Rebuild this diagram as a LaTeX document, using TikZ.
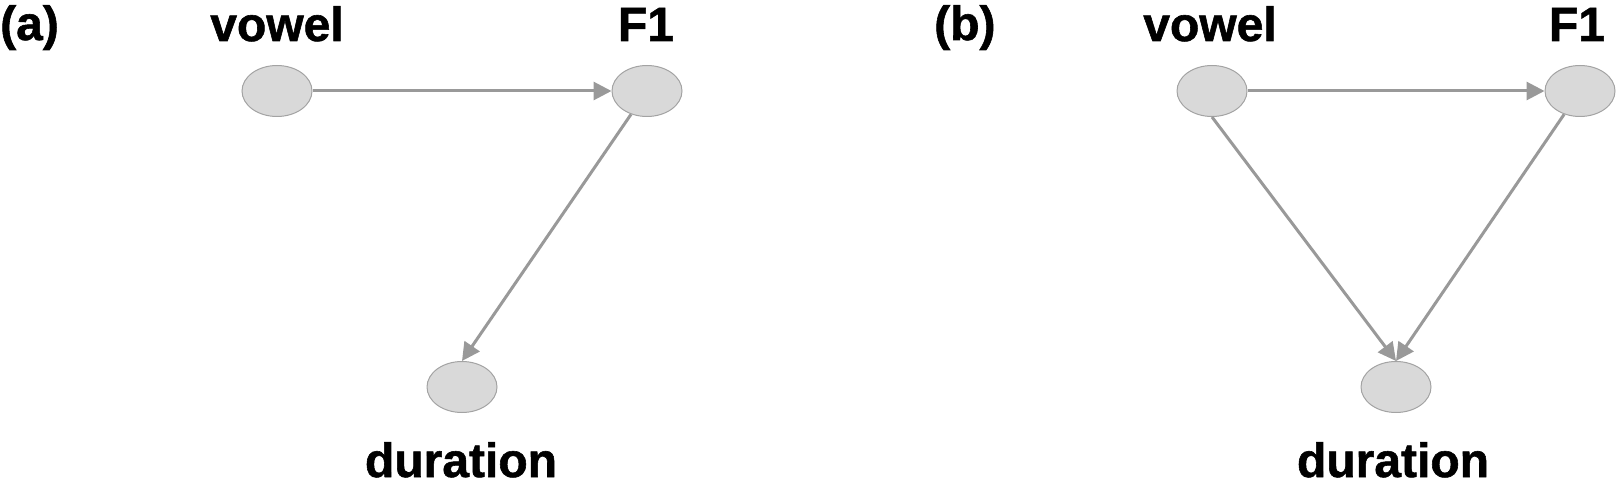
\documentclass[tikz,border=0pt]{standalone}
\usepackage{fontspec}
\setmainfont{Liberation Sans}[BoldFeatures={FakeBold=1.2}]
\usetikzlibrary{arrows.meta,shapes.geometric}
\definecolor{nodefill}{HTML}{D9D9D9}
\definecolor{nodeline}{HTML}{A3A3A3}
\definecolor{edgecol}{HTML}{999999}
\tikzset{
  var/.style={ellipse,draw=nodeline,fill=nodefill,line width=1pt,minimum width=70pt,minimum height=51pt,inner sep=0pt},
  lbl/.style={font=\fontsize{48}{48}\selectfont\bfseries,inner sep=0pt,anchor=base},
  edge/.style={draw=edgecol,line width=3pt,-{Triangle[length=18pt,width=18pt]}}
}
\begin{document}
\begin{tikzpicture}[x=1pt,y=-1pt]
\useasboundingbox (0,0) rectangle (1616,489);
% panel (a)
\node[lbl,anchor=base west] (la) at (0,40) {(a)};
\node[var] (va) at (277,91) {};
\node[var] (fa) at (647,91) {};
\node[var] (da) at (462,387) {};
\node[lbl] (tva) at (277,41) {vowel};
\node[lbl] (tfa) at (646,41) {F1};
\node[lbl] (tda) at (461,477) {duration};
\draw[edge] (va) -- (fa);
\draw[edge] (fa) -- (da.north);
% panel (b)
\node[lbl,anchor=base west] (lb) at (934,40) {(b)};
\node[var] (vb) at (1212,91) {};
\node[var] (fb) at (1580,91) {};
\node[var] (db) at (1396,387) {};
\node[lbl] (tvb) at (1210,41) {vowel};
\node[lbl] (tfb) at (1577,41) {F1};
\node[lbl] (tdb) at (1393,477) {duration};
\draw[edge] (vb) -- (fb);
\draw[edge] (vb.south) -- (db.north);
\draw[edge] (fb) -- (db.north);
\end{tikzpicture}
\end{document}
